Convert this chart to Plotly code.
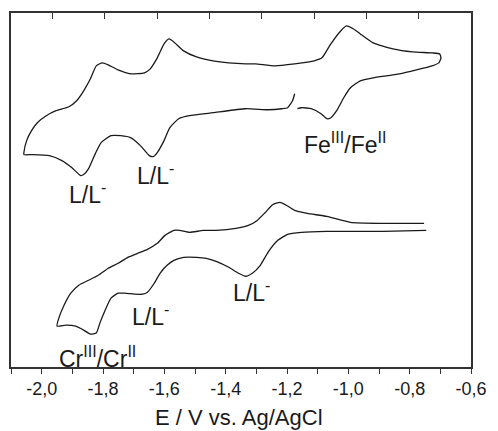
import plotly.graph_objects as go

# ---- data: Fe complex CV (potential V vs Ag/AgCl, current arb. units) ----
fe_E = [-1.166, -1.153, -1.121, -1.089, -1.070, -1.057, -1.038, -1.015, -0.993, -0.961,
        -0.919, -0.833, -0.727, -0.705, -0.698, -0.702,
        -0.727, -0.791, -0.855, -0.919, -0.961, -0.983, -1.006, -1.025, -1.057, -1.086,
        -1.111, -1.175, -1.239, -1.303, -1.335, -1.390, -1.441, -1.495, -1.537, -1.569,
        -1.585, -1.601, -1.623, -1.646, -1.665, -1.710, -1.751, -1.783, -1.802, -1.822,
        -1.841, -1.863, -1.886, -1.911, -1.953, -1.985, -2.014, -2.033, -2.049, -2.058,
        -2.058, -2.030, -1.975, -1.934, -1.902, -1.873, -1.863, -1.847, -1.825, -1.806,
        -1.774, -1.742, -1.710, -1.678, -1.649, -1.636, -1.623, -1.601, -1.582, -1.553,
        -1.518, -1.441, -1.335, -1.262, -1.217, -1.198, -1.182, -1.175]
fe_I = [25.9, 26.0, 25.9, 25.4, 24.9, 25.0, 25.7, 27.0, 28.0, 28.7,
        29.0, 29.4, 30.2, 30.5, 31.0, 31.4,
        31.5, 31.6, 31.9, 32.5, 33.4, 33.9, 34.2, 33.7, 32.4, 31.0,
        30.7, 30.4, 30.2, 30.4, 30.4, 30.5, 30.7, 31.1, 31.7, 32.6,
        32.9, 32.4, 31.0, 29.9, 29.5, 29.4, 29.8, 30.3, 30.5, 30.2,
        28.9, 27.7, 26.7, 26.1, 25.7, 25.2, 24.5, 23.7, 22.7, 21.5,
        21.3, 21.3, 21.2, 20.7, 20.0, 19.2, 19.3, 19.9, 21.4, 22.5,
        23.2, 23.2, 23.0, 22.2, 21.2, 21.1, 21.5, 22.7, 24.0, 24.9,
        25.2, 25.5, 25.9, 25.8, 25.9, 26.0, 26.7, 27.4]

# ---- data: Cr complex CV ----
cr_E = [-0.753, -0.887, -0.993, -1.070, -1.134, -1.175, -1.201, -1.223, -1.246, -1.271,
        -1.297, -1.326, -1.367, -1.431, -1.473, -1.518, -1.550, -1.569, -1.598, -1.623,
        -1.655, -1.687, -1.719, -1.751, -1.783, -1.815, -1.847, -1.879, -1.905, -1.927,
        -1.943, -1.950,
        -1.921, -1.889, -1.863, -1.841, -1.822, -1.809, -1.793, -1.774, -1.751, -1.729,
        -1.697, -1.671, -1.655, -1.633, -1.614, -1.591, -1.569, -1.537, -1.495, -1.463,
        -1.431, -1.390, -1.358, -1.335, -1.313, -1.287, -1.262, -1.230, -1.198, -1.153,
        -1.070, -0.887, -0.746]
cr_I = [14.4, 14.4, 14.5, 15.1, 15.4, 15.7, 16.2, 16.5, 16.3, 15.5,
        14.7, 14.2, 13.9, 13.7, 13.7, 13.5, 13.7, 13.7, 13.2, 12.4,
        11.8, 11.4, 11.0, 10.4, 9.9, 9.2, 8.7, 8.2, 7.4, 6.2,
        5.0, 4.1,
        4.2, 4.1, 3.7, 3.3, 3.4, 4.5, 5.7, 6.9, 7.4, 7.4,
        7.3, 7.3, 7.5, 8.4, 9.4, 10.2, 10.7, 11.0, 11.0, 10.9,
        10.6, 10.0, 9.4, 9.1, 9.4, 10.2, 11.5, 12.7, 13.3, 13.5,
        13.6, 13.6, 13.7]

# ---- tick labels ----
tick_vals = [-2.1, -2.0, -1.9, -1.8, -1.7, -1.6, -1.5, -1.4, -1.3, -1.2, -1.1, -1.0, -0.9, -0.8, -0.7, -0.6]
tick_text = ["", "-2,0", "", "-1,8", "", "-1,6", "", "-1,4", "", "-1,2", "", "-1,0", "", "-0,8", "", "-0,6"]
top_tick_vals = [0, 1, 2, 3, 4, 5, 6, 7]
x_title = "E / V vs. Ag/AgCl"

# ---- peak labels ----
label_text = ["L/L<sup>-</sup>", "L/L<sup>-</sup>", "Fe<sup>III</sup>/Fe<sup>II</sup>",
              "L/L<sup>-</sup>", "L/L<sup>-</sup>", "Cr<sup>III</sup>/Cr<sup>II</sup>"]
label_E = [-1.850, -1.628, -1.012, -1.644, -1.316, -1.818]
label_I = [17.4, 19.4, 22.5, 5.2, 7.6, 1.0]

FONT = "Liberation Sans, Arial, sans-serif"
INK = "#1a1a1a"

fig = go.Figure()
for E, I in ((fe_E, fe_I), (cr_E, cr_I)):
    fig.add_trace(go.Scatter(x=E, y=I, mode="lines",
                             line=dict(color=INK, width=1.3, shape="spline", smoothing=0.5),
                             showlegend=False, hoverinfo="skip"))
# dummy trace to bind the top tick axis
fig.add_trace(go.Scatter(x=[None], y=[None], xaxis="x2", showlegend=False, hoverinfo="skip"))

for t, x, y in zip(label_text, label_E, label_I):
    fig.add_annotation(x=x, y=y, text=t, showarrow=False, xanchor="center", yanchor="middle",
                       font=dict(family=FONT, size=23, color=INK))

# axis title placed as a paper annotation below the tick labels
fig.add_annotation(x=0.495, y=-0.144, xref="paper", yref="paper", text=x_title,
                   showarrow=False, xanchor="center", yanchor="middle",
                   font=dict(family=FONT, size=22, color=INK))

fig.update_layout(
    width=498, height=431,
    margin=dict(l=11, r=18, t=12, b=64),
    paper_bgcolor="white", plot_bgcolor="white",
    xaxis=dict(range=[-2.1, -0.6], tickmode="array", tickvals=tick_vals, ticktext=tick_text,
               ticks="outside", ticklen=5, tickwidth=1.2, tickcolor="#333",
               showline=True, linecolor="#333", linewidth=1.5, mirror=True,
               showgrid=False, zeroline=False,
               tickfont=dict(family=FONT, size=18, color=INK)),
    xaxis2=dict(range=[-0.794, 8.0], overlaying="x", side="top", tickmode="array",
                tickvals=top_tick_vals, ticktext=[""] * len(top_tick_vals),
                ticks="inside", ticklen=6, tickwidth=1.2, tickcolor="#333",
                showline=False, showgrid=False, zeroline=False),
    yaxis=dict(range=[0, 35.5], showticklabels=False, ticks="", showgrid=False, zeroline=False,
               showline=True, linecolor="#333", linewidth=1.5, mirror=True),
)

fig.write_html("out.html")
